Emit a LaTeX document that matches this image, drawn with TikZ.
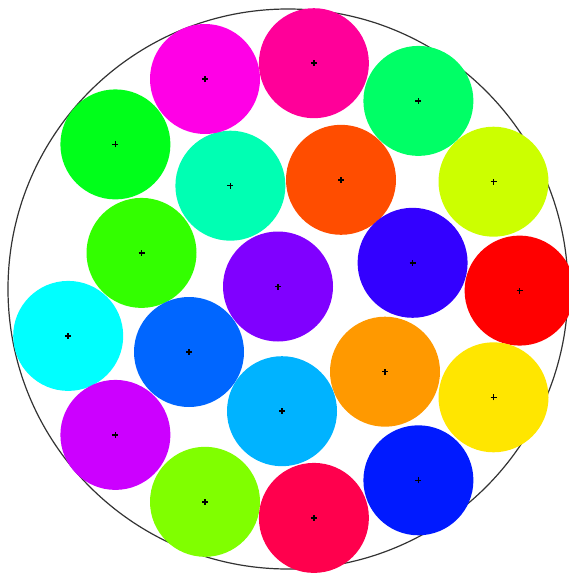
\documentclass[tikz,border=0pt]{standalone}
\begin{document}
\begin{tikzpicture}[x=1pt,y=-1pt,
  disk/.style={circle, inner sep=0pt, minimum size=110pt, draw=none},
  ctr/.style={line width=1.5pt, black},
  outer/.style={draw=black!80, line width=1.2pt}]
\useasboundingbox (0,0) rectangle (569,573);
\node[circle, inner sep=0pt, minimum size=560pt, outer] (box) at (288,289) {};
\foreach \name/\px/\py/\r/\g/\b in {
  d0/519.6/290.6/255/0/0, d1/341/179.8/255/77/0, d2/385/371.7/255/153/0, d3/493.5/397.3/255/230/0,
  d4/493.5/181.7/204/255/0, d5/205/501.8/128/255/0, d6/141.5/252.9/51/255/0, d7/115.4/144.4/0/255/26,
  d8/418.4/100.9/0/255/102, d9/230.4/185.7/0/255/179, d10/68.2/335.9/0/255/255, d11/282/411.2/0/179/255,
  d12/189/352/0/102/255, d13/418.4/480.3/0/26/255, d14/412.6/262.8/51/0/255, d15/278/286.5/128/0/255,
  d16/115.4/434.9/204/0/255, d17/205/79/255/0/230, d18/313.9/63.2/255/0/153, d19/313.9/517.9/255/0/77}
{
  \definecolor{tmpc}{RGB}{\r,\g,\b}
  \node[disk, fill=tmpc] (\name) at (\px,\py) {};
  \draw[ctr] ([xshift=-3pt]\name.center) -- ([xshift=3pt]\name.center);
  \draw[ctr] ([yshift=-3pt]\name.center) -- ([yshift=3pt]\name.center);
}
\end{tikzpicture}
\end{document}
